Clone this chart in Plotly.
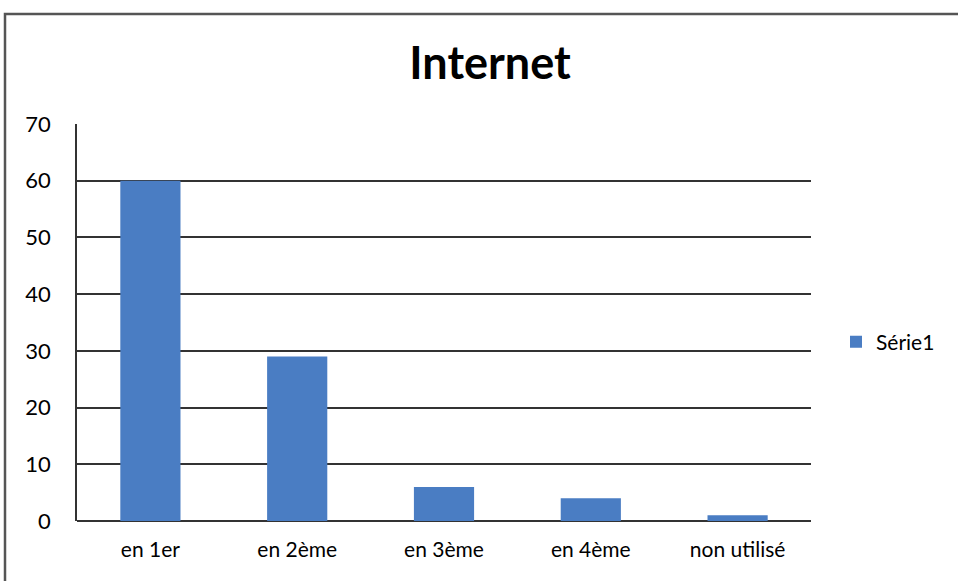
import plotly.graph_objects as go

categories = ["en 1er", "en 2ème", "en 3ème", "en 4ème", "non utilisé"]
values = [60, 29, 6, 4, 1]
series_name = "Série1"
y_ticks = [0, 10, 20, 30, 40, 50, 60, 70]

L, R, T, B = 77, 147, 124, 60
W, H = 958, 581
pw, ph = W - L - R, H - T - B

def px(x):
    return (x - L) / pw

def py(y):
    return (H - B - y) / ph

FONT = "Lato, 'Open Sans', sans-serif"

fig = go.Figure()
fig.add_trace(go.Bar(x=categories, y=values, name=series_name,
                     marker=dict(color="#4a7dc3", line=dict(width=0)),
                     showlegend=True))

fig.update_layout(
    width=W, height=H,
    margin=dict(l=L, r=R, t=T, b=B, pad=0),
    paper_bgcolor="white", plot_bgcolor="white",
    font=dict(family=FONT, size=21, color="black"),
    title=dict(text="<b>Internet</b>", x=490 / W, xref="container", xanchor="center",
               y=1 - 63 / H, yref="container", yanchor="middle",
               font=dict(size=45, family=FONT, color="black")),
    bargap=0.59,
    showlegend=True,
    legend=dict(x=px(836), y=py(342), xanchor="left", yanchor="middle",
                font=dict(size=21), bgcolor="rgba(0,0,0,0)", itemwidth=30),
    xaxis=dict(showgrid=False, showline=False, ticks="", ticklabelstandoff=14,
               tickfont=dict(size=21)),
    yaxis=dict(range=[0, 70], tickvals=y_ticks, showgrid=True, gridcolor="#333333",
               gridwidth=1.5, showline=True, linecolor="#333333", linewidth=1.5,
               zeroline=True, zerolinecolor="#333333", zerolinewidth=1.5,
               ticks="", ticklabelstandoff=20, tickfont=dict(size=22)),
    shapes=[dict(type="rect", xref="paper", yref="paper",
                 x0=px(5), x1=px(1010), y0=py(640), y1=py(14),
                 line=dict(color="#555555", width=2.5), fillcolor="rgba(0,0,0,0)")],
)

fig.write_html("out.html", config={"displayModeBar": False},
               post_script="document.body.style.margin='0';document.body.style.overflow='hidden';")
